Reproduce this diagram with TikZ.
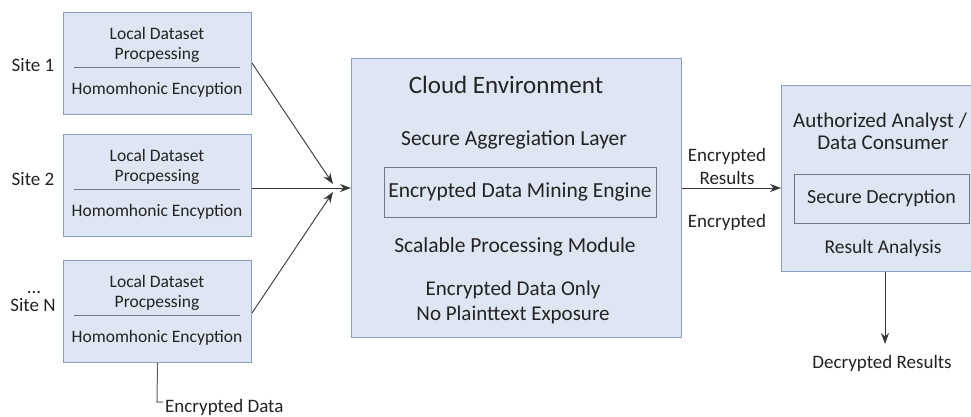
\documentclass[tikz,border=0pt]{standalone}
\usepackage{fontspec}
\setmainfont{Carlito}
\usetikzlibrary{arrows.meta}
\definecolor{boxfill}{RGB}{221,230,242}
\definecolor{boxline}{RGB}{138,158,192}
\definecolor{innerline}{RGB}{110,120,138}
\definecolor{txt}{RGB}{35,35,35}
\definecolor{arr}{RGB}{55,55,55}
\tikzset{
  sitebox/.style={draw=boxline, line width=1pt, fill=boxfill, minimum width=188pt, minimum height=102pt, inner sep=0pt},
  bigbox/.style={draw=boxline, line width=1pt, fill=boxfill, inner sep=0pt},
  innerbox/.style={draw=innerline, line width=0.9pt, fill=boxfill, inner sep=0pt},
  lbl/.style={text=txt, inner sep=0pt, align=center},
  conn/.style={draw=arr, line width=0.9pt, -{Stealth[length=11pt,width=8pt]}},
  plain/.style={draw=arr!80, line width=1pt},
}
\begin{document}
\begin{tikzpicture}[x=1pt,y=-1pt]
\useasboundingbox (0,0) rectangle (971,416);
\fill[white] (0,0) rectangle (971,416);
\begin{scope}
\clip (0,0) rectangle (971,416);
% site boxes
\foreach \n/\t in {s1/12, s2/134, s3/260}{
  \node[sitebox, anchor=north west] (\n) at (63,\t) {};
  \node[lbl, font=\fontsize{17.5}{19}\selectfont] (\n a) at (157,\t+21) {Local Dataset};
  \node[lbl, font=\fontsize{17.5}{19}\selectfont] (\n b) at (157,\t+43) {Procpessing};
  \draw[innerline, line width=0.9pt] (74,\t+55.5) -- (240,\t+55.5);
  \node[lbl, font=\fontsize{17.5}{19}\selectfont] (\n c) at (157,\t+78) {Homomhonic Encyption};
}
\node[lbl, font=\fontsize{19}{21}\selectfont] (l1) at (33,65) {Site 1};
\node[lbl, font=\fontsize{19}{21}\selectfont] (l2) at (33,179) {Site 2};
\node[lbl, font=\fontsize{19}{21}\selectfont] (l3dots) at (34,292) {...};
\node[lbl, font=\fontsize{19}{21}\selectfont] (l3) at (33,305) {Site N};

% cloud box
\node[bigbox, minimum width=330pt, minimum height=279pt, anchor=north west] (cloud) at (351,58) {};
\node[lbl, font=\fontsize{25}{27}\selectfont] (ct) at (506,85) {Cloud Environment};
\node[lbl, font=\fontsize{21.5}{23}\selectfont] (ca) at (514,140) {Secure Aggregiation Layer};
\node[innerbox, minimum width=272pt, minimum height=50pt, font=\fontsize{21.5}{23}\selectfont, text=txt] (engine) at (520,192) {Encrypted Data Mining Engine};
\node[lbl, font=\fontsize{21.5}{23}\selectfont] (cs) at (515,247) {Scalable Processing Module};
\node[lbl, font=\fontsize{21}{25}\selectfont] (co) at (513,302.5) {Encrypted Data Only\\No Plainttext Exposure};

% consumer box
\node[bigbox, minimum width=194pt, minimum height=186pt, anchor=north west] (cons) at (781,85) {};
\node[lbl, font=\fontsize{21}{21}\selectfont] (cn1) at (880,122) {Authorized Analyst /};
\node[lbl, font=\fontsize{21}{21}\selectfont] (cn2) at (883,143) {Data Consumer};
\node[innerbox, minimum width=175pt, minimum height=49pt, font=\fontsize{20}{22}\selectfont, text=txt] (dec) at (881.5,198.5) {Secure Decryption};
\node[lbl, font=\fontsize{19.5}{21}\selectfont] (ra) at (883,248) {Result Analysis};
\end{scope}

% connectors into cloud
\coordinate (m1) at (333,184);
\coordinate (m3) at (333,192);
\draw[conn] (s1.east |- 0,63) -- (m1);
\draw[conn] (s3.east |- 0,313) -- (m3);
\draw[conn] (s2.east |- 0,188) -- (cloud.west |- 0,188);

% out of cloud
\draw[conn] (cloud.east |- 0,188) -- (cons.west |- 0,188);
\node[lbl, font=\fontsize{19}{23}\selectfont] (er) at (727,166.5) {Encrypted\\Results};
\node[lbl, font=\fontsize{19}{21}\selectfont] (e2) at (727,222) {Encrypted};

% decrypted
\node[lbl, font=\fontsize{19}{21}\selectfont] (dr) at (882,363) {Decrypted Results};
\draw[conn] (cons.south -| 885,0) -- (885,344);

% encrypted data
\node[lbl, font=\fontsize{19}{21}\selectfont, anchor=west] (ed) at (165,407) {Encrypted Data};
\draw[plain] (s3.south) -- (157,402) -- (163,402);
\end{tikzpicture}
\end{document}
